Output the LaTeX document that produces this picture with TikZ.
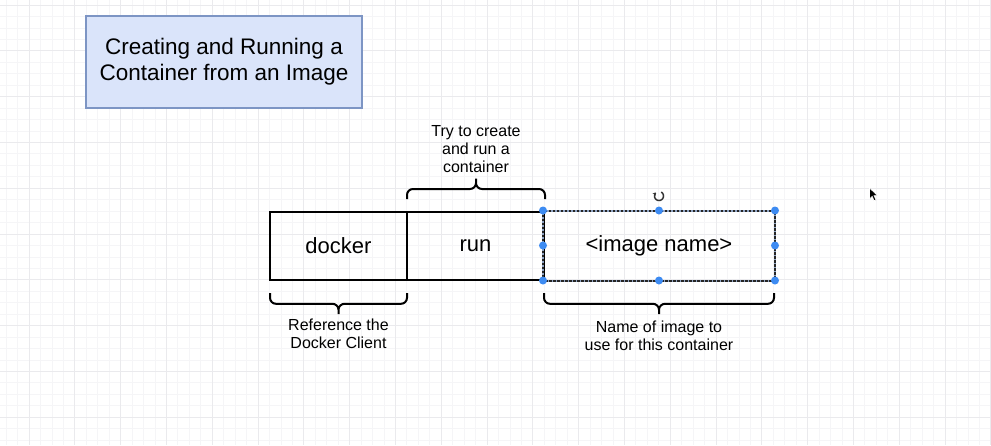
\documentclass[tikz,border=0pt]{standalone}
\usepackage{fontspec}
\setmainfont{Liberation Sans}
\usetikzlibrary{arrows.meta}
\definecolor{gridminor}{HTML}{F5F5F7}
\definecolor{gridmajor}{HTML}{EAEAED}
\definecolor{titlefill}{HTML}{DAE4FA}
\definecolor{titledraw}{HTML}{7D95C4}
\definecolor{handle}{HTML}{3D8BF2}
\definecolor{selunder}{HTML}{8EA3C4}
\tikzset{
  cellbox/.style={draw=black, line width=2pt, minimum height=68pt, inner sep=0pt,
    font=\fontsize{22}{26}\selectfont},
  bracestyle/.style={draw=black, line width=2pt, rounded corners=6pt},
  notetext/.style={align=center, inner sep=0pt, font=\fontsize{16}{18}\selectfont},
  handledot/.style={circle, fill=handle, minimum size=8pt, inner sep=0pt},
  minorline/.style={draw=gridminor, line width=0.8pt},
  majorline/.style={draw=gridmajor, line width=1pt},
}
\begin{document}
\begin{tikzpicture}[x=1pt,y=-1pt]
\useasboundingbox (0,0) rectangle (991,445);
\fill[white] (0,0) rectangle (991,445);
% grid
\foreach \i in {-2,...,84} \draw[minorline] ({29+\i*11.45},0) -- ({29+\i*11.45},445);
\foreach \j in {0,...,39} \draw[minorline] (0,{5+\j*11.45}) -- (991,{5+\j*11.45});
\foreach \i in {0,...,21} \draw[majorline] ({29+\i*45.8},0) -- ({29+\i*45.8},445);
\foreach \j in {0,...,9} \draw[majorline] (0,{5+\j*45.8}) -- (991,{5+\j*45.8});

% title
\node[draw=titledraw, fill=titlefill, line width=1.5pt, minimum width=276pt,
  minimum height=92pt, align=center, inner sep=0pt,
  font=\fontsize{22.5}{26}\selectfont] (title) at (224,62)
  {Creating and Running a\\Container from an Image};

% command boxes
\node[cellbox, minimum width=137pt] (docker) at (338.5,245.5) {docker};
\node[cellbox, minimum width=137pt] (run) at (475.5,245.5) {run};
\node[cellbox, draw=none, minimum width=230pt] (img) at (659,245.5) {<image name>};
\draw[line width=2pt, draw=selunder] (img.north west) rectangle (img.south east);
\draw[line width=2pt, draw=black!85, dash pattern=on 2.5pt off 1.5pt]
  (img.north west) rectangle (img.south east);
\foreach \a in {north west,north,north east,west,east,south west,south,south east}
  \node[handledot] at (img.\a) {};

% rotate icon
\draw[line width=1.5pt, draw=black!80, {Stealth[length=3pt,width=4pt]}-]
  plot[smooth, domain=-228:60, samples=40] ({659+4.5*cos(\x)},{196-4.5*sin(\x)});

% braces
\draw[bracestyle] (407,199) -- (407,189) -- (476,189) -- (476,178.5)
  (545,199) -- (545,189) -- (476,189) -- (476,178.5);
\draw[bracestyle] (270,293) -- (270,303.8) -- (338.5,303.8) -- (338.5,314)
  (407,293) -- (407,303.8) -- (338.5,303.8) -- (338.5,314);
\draw[bracestyle] (544,293) -- (544,303.8) -- (659,303.8) -- (659,314)
  (774,293) -- (774,303.8) -- (659,303.8) -- (659,314);

% notes
\node[notetext] (runnote) at (476,149.3) {Try to create\\and run a\\container};
\node[notetext] (dockernote) at (338.5,333.8) {Reference the\\Docker Client};
\node[notetext] (imgnote) at (659,335.4) {Name of image to\\use for this container};

% mouse cursor
\filldraw[fill=black, draw=white, line width=0.6pt] (869.5,188) -- (869.5,199) -- (872.2,196.4)
  -- (874.2,200.8) -- (876,200) -- (874,195.6) -- (877.6,195.6) -- cycle;
\end{tikzpicture}
\end{document}
